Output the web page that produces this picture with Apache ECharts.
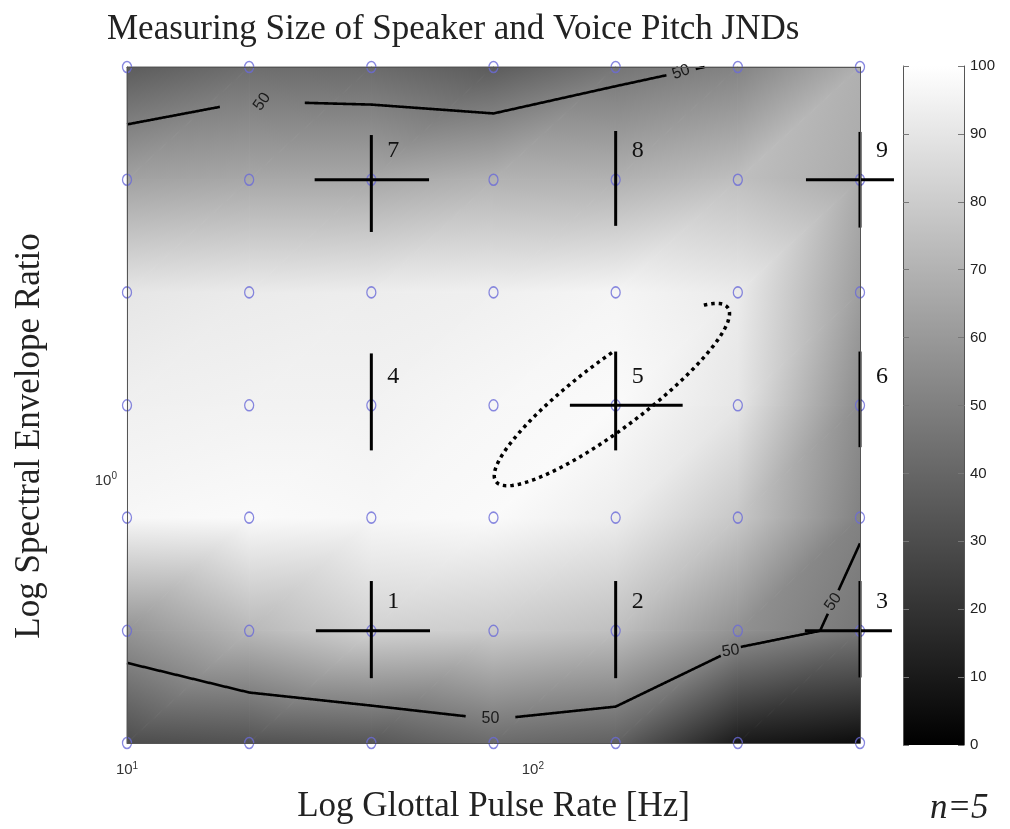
<!DOCTYPE html>
<html>
<head>
<meta charset="utf-8">
<title>Measuring Size of Speaker and Voice Pitch JNDs</title>
<script src="https://cdn.jsdelivr.net/npm/echarts@6/dist/echarts.min.js"></script>
<style>
    html, body { margin: 0; padding: 0; background: #fff; }
    #chart { width: 1010px; height: 829px; }
</style>
</head>
<body>
<div id="chart"></div>
<script>
    // grid of the experiment: glottal pulse rate (Hz) x spectral envelope ratio
    var gprValues = [10, 20, 40, 80, 160, 320, 640];
    var serValues = [0.584, 0.735, 0.927, 1.167, 1.471, 1.853, 2.335];

    // percent values at the grid points, one row per SER (lowest first)
    var pctRow0 = [30, 32, 34, 42, 38, 10, 5];
    var pctRow1 = [58, 72, 82, 80, 75, 57, 46.6];
    var pctRow2 = [97, 98, 97, 98, 93, 78, 51];
    var pctRow3 = [94, 95, 95, 97, 98, 90, 55];
    var pctRow4 = [90, 92, 93, 94, 96, 92, 62];
    var pctRow5 = [63.5, 66, 66, 70, 69.5, 75, 67];
    var pctRow6 = [36, 43, 42, 36, 46, 51.5, 69];
    var pctGrid = [pctRow0, pctRow1, pctRow2, pctRow3, pctRow4, pctRow5, pctRow6];

    // colour bar scale
    var colorMin = 0;
    var colorMax = 100;
    var colorStep = 10;

    // contour level and where its labels sit
    var contourLevel = 50;
    var contourLabelGpr = [21.5, 234, 78.4, 311, 558];
    var contourLabelSer = [2.16, 2.28, 0.611, 0.699, 0.778];

    // JNDs measured at 9 of the grid points
    var jndNames = ['1', '2', '3', '4', '5', '6', '7', '8', '9'];
    var jndGpr = [40, 160, 640, 40, 160, 640, 40, 160, 640];
    var jndSer = [0.735, 0.735, 0.735, 1.167, 1.167, 1.167, 1.853, 1.853, 1.853];
    var jndGprLow = [29.2, null, 468, null, 123.4, null, 29.0, null, 471];
    var jndGprHigh = [55.8, null, 767, null, 234, null, 55.5, null, 776];
    var jndSerLow = [0.667, 0.667, 0.668, 1.064, 1.064, 1.071, 1.665, 1.686, 1.680];
    var jndSerHigh = [0.814, 0.814, 0.814, 1.298, 1.303, 1.303, 2.031, 2.048, 2.044];

    // ellipse round point 5 (centre in Hz / SER, axes in log10 units, open between the two angles)
    var ellipseCenter = [156.6, 1.193];
    var ellipseMajor = [0.2855, 0.0775];
    var ellipseMinor = [-0.0503, 0.0242];
    var ellipseGap = [30, 80];

    // ---- styles ----
    var contourGapPx = [42, 14, 24, 10, 12];
    var contourLabelRotate = [55, 20, 0, 8, 55];
    var serifFont = '"Liberation Serif", "Times New Roman", serif';
    var sansFont = '"Liberation Sans", Arial, sans-serif';

    function log10(v) {
        return Math.log(v) / Math.LN10;
    }

    function grayOf(v) {
        var c = Math.round(Math.max(0, Math.min(100, v)) / 100 * 255);
        return 'rgb(' + c + ',' + c + ',' + c + ')';
    }

    // gouraud style triangle: colour is linear over the triangle, so one linear gradient does it
    function shadeTriangle(p, v) {
        var x0 = p[0][0], y0 = p[0][1];
        var dx1 = p[1][0] - x0, dy1 = p[1][1] - y0;
        var dx2 = p[2][0] - x0, dy2 = p[2][1] - y0;
        var dv1 = v[1] - v[0], dv2 = v[2] - v[0];
        var det = dx1 * dy2 - dx2 * dy1;
        var a = (dv1 * dy2 - dv2 * dy1) / det;
        var b = (dx1 * dv2 - dx2 * dv1) / det;
        var g = Math.sqrt(a * a + b * b);
        var fill, stroke;
        if (!isFinite(g) || g < 1e-6) {
            fill = stroke = grayOf(v[0]);
        } else {
            var ux = a / g, uy = b / g;
            var t = p.map(function (pt) { return pt[0] * ux + pt[1] * uy; });
            var t0 = t[0];
            var tmin = Math.min(t[0], t[1], t[2]);
            var tmax = Math.max(t[0], t[1], t[2]);
            var makeGrad = function () {
                return new echarts.graphic.LinearGradient(
                    x0 + ux * (tmin - t0), y0 + uy * (tmin - t0),
                    x0 + ux * (tmax - t0), y0 + uy * (tmax - t0),
                    [
                        { offset: 0, color: grayOf(v[0] + g * (tmin - t0)) },
                        { offset: 1, color: grayOf(v[0] + g * (tmax - t0)) }
                    ],
                    true
                );
            };
            fill = makeGrad();
            stroke = makeGrad();
        }
        return {
            type: 'polygon',
            shape: { points: p },
            style: { fill: fill, stroke: stroke, lineWidth: 1 }
        };
    }

    function renderSurface(params, api) {
        var i = api.value(2), j = api.value(3);
        var z = pctGrid;
        var bl = api.coord([gprValues[i], serValues[j]]);
        var br = api.coord([gprValues[i + 1], serValues[j]]);
        var tr = api.coord([gprValues[i + 1], serValues[j + 1]]);
        var tl = api.coord([gprValues[i], serValues[j + 1]]);
        return {
            type: 'group',
            children: [
                shadeTriangle([bl, br, tr], [z[j][i], z[j][i + 1], z[j + 1][i + 1]]),
                shadeTriangle([bl, tr, tl], [z[j][i], z[j + 1][i + 1], z[j + 1][i]])
            ]
        };
    }

    // marching squares on the grid, interpolating in log space
    function edgePoint(i1, j1, i2, j2, level) {
        var va = pctGrid[j1][i1], vb = pctGrid[j2][i2];
        if ((va - level) * (vb - level) >= 0) return null;
        var t = (level - va) / (vb - va);
        var lx = log10(gprValues[i1]) + t * (log10(gprValues[i2]) - log10(gprValues[i1]));
        var ly = log10(serValues[j1]) + t * (log10(serValues[j2]) - log10(serValues[j1]));
        return {
            key: (i1 === i2 ? 'v' : 'h') + Math.min(i1, i2) + '_' + Math.min(j1, j2),
            value: [Math.pow(10, lx), Math.pow(10, ly)]
        };
    }

    function contourLines(level) {
        var segs = [];
        for (var j = 0; j < serValues.length - 1; j++) {
            for (var i = 0; i < gprValues.length - 1; i++) {
                var pts = [
                    edgePoint(i, j, i + 1, j, level),
                    edgePoint(i + 1, j, i + 1, j + 1, level),
                    edgePoint(i, j + 1, i + 1, j + 1, level),
                    edgePoint(i, j, i, j + 1, level)
                ].filter(function (p) { return p; });
                if (pts.length === 2) {
                    segs.push([pts[0], pts[1]]);
                } else if (pts.length === 4) {
                    var mid = (pctGrid[j][i] + pctGrid[j][i + 1] + pctGrid[j + 1][i] + pctGrid[j + 1][i + 1]) / 4;
                    if ((mid - level) * (pctGrid[j][i] - level) > 0) {
                        segs.push([pts[0], pts[1]], [pts[2], pts[3]]);
                    } else {
                        segs.push([pts[0], pts[3]], [pts[1], pts[2]]);
                    }
                }
            }
        }
        var used = segs.map(function () { return false; });
        var lines = [];
        for (var s = 0; s < segs.length; s++) {
            if (used[s]) continue;
            used[s] = true;
            var line = [segs[s][0], segs[s][1]];
            var grow = true;
            while (grow) {
                grow = false;
                for (var k = 0; k < segs.length; k++) {
                    if (used[k]) continue;
                    var a = segs[k][0], b = segs[k][1];
                    var head = line[0].key, tail = line[line.length - 1].key;
                    if (a.key === tail) { line.push(b); }
                    else if (b.key === tail) { line.push(a); }
                    else if (a.key === head) { line.unshift(b); }
                    else if (b.key === head) { line.unshift(a); }
                    else continue;
                    used[k] = true;
                    grow = true;
                }
            }
            lines.push(line.map(function (p) { return p.value; }));
        }
        return lines;
    }

    function densify(pts, step) {
        var out = [pts[0]];
        for (var k = 1; k < pts.length; k++) {
            var a = pts[k - 1], b = pts[k];
            var n = Math.max(1, Math.ceil(Math.hypot(b[0] - a[0], b[1] - a[1]) / step));
            for (var s = 1; s <= n; s++) {
                out.push([a[0] + (b[0] - a[0]) * s / n, a[1] + (b[1] - a[1]) * s / n]);
            }
        }
        return out;
    }

    var contourData = contourLines(contourLevel);

    function renderContour(params, api) {
        var lines = contourData.map(function (line) {
            return densify(line.map(function (v) { return api.coord(v); }), 1);
        });
        // snap the labels onto the line
        var labels = contourLabelGpr.map(function (g, k) {
            var p = api.coord([g, contourLabelSer[k]]);
            var best = p, bestD = Infinity;
            lines.forEach(function (line) {
                line.forEach(function (q) {
                    var d = Math.hypot(q[0] - p[0], q[1] - p[1]);
                    if (d < bestD) { bestD = d; best = q; }
                });
            });
            return best;
        });
        var children = [];
        lines.forEach(function (line) {
            var run = [];
            line.forEach(function (q) {
                var hidden = labels.some(function (c, k) {
                    return Math.hypot(q[0] - c[0], q[1] - c[1]) < contourGapPx[k];
                });
                if (hidden) {
                    if (run.length > 1) children.push(run);
                    run = [];
                } else {
                    run.push(q);
                }
            });
            if (run.length > 1) children.push(run);
        });
        children = children.map(function (run) {
            return {
                type: 'polyline',
                shape: { points: run },
                style: { stroke: '#000', lineWidth: 2.6, fill: null, lineJoin: 'round' }
            };
        });
        labels.forEach(function (c, k) {
            children.push({
                type: 'text',
                x: c[0],
                y: c[1],
                rotation: contourLabelRotate[k] * Math.PI / 180,
                style: {
                    text: String(contourLevel),
                    fill: '#1a1a1a',
                    font: '16px ' + sansFont,
                    align: 'center',
                    verticalAlign: 'middle'
                }
            });
        });
        return { type: 'group', children: children };
    }

    function renderJnd(params, api) {
        var k = api.value(2);
        var c = api.coord([jndGpr[k], jndSer[k]]);
        var lineStyle = { stroke: '#000', lineWidth: 3 };
        var top = api.coord([jndGpr[k], jndSerHigh[k]]);
        var bottom = api.coord([jndGpr[k], jndSerLow[k]]);
        var children = [{
            type: 'line',
            shape: { x1: top[0], y1: top[1], x2: bottom[0], y2: bottom[1] },
            style: lineStyle
        }];
        if (jndGprLow[k] != null) {
            var left = api.coord([jndGprLow[k], jndSer[k]]);
            var right = api.coord([jndGprHigh[k], jndSer[k]]);
            children.push({
                type: 'line',
                shape: { x1: left[0], y1: left[1], x2: right[0], y2: right[1] },
                style: lineStyle
            });
        }
        children.push({
            type: 'text',
            x: c[0] + 22,
            y: c[1] - 29,
            style: {
                text: jndNames[k],
                fill: '#111',
                font: '24px ' + serifFont,
                align: 'center',
                verticalAlign: 'middle'
            }
        });
        return { type: 'group', children: children };
    }

    function renderEllipse(params, api) {
        var lc = [log10(ellipseCenter[0]), log10(ellipseCenter[1])];
        var pts = [];
        for (var deg = ellipseGap[1]; deg <= ellipseGap[0] + 360; deg += 2) {
            var th = deg * Math.PI / 180;
            var lx = lc[0] + Math.cos(th) * ellipseMajor[0] + Math.sin(th) * ellipseMinor[0];
            var ly = lc[1] + Math.cos(th) * ellipseMajor[1] + Math.sin(th) * ellipseMinor[1];
            pts.push(api.coord([Math.pow(10, lx), Math.pow(10, ly)]));
        }
        return {
            type: 'polyline',
            shape: { points: pts },
            style: { stroke: '#000', lineWidth: 3.5, fill: null, lineDash: [3.5, 4], lineCap: 'butt' }
        };
    }

    var surfaceCells = [];
    for (var j = 0; j < serValues.length - 1; j++) {
        for (var i = 0; i < gprValues.length - 1; i++) {
            surfaceCells.push([gprValues[i], serValues[j], i, j]);
        }
    }
    var gridPoints = [];
    serValues.forEach(function (s) {
        gprValues.forEach(function (g) { gridPoints.push([g, s]); });
    });
    var jndData = jndNames.map(function (n, k) { return [jndGpr[k], jndSer[k], k]; });

    function powerLabel(v) {
        var e = log10(v);
        if (Math.abs(e - Math.round(e)) > 1e-6) return '';
        return '{b|10}{e|' + Math.round(e) + '}';
    }
    var powerRich = {
        b: { fontSize: 15, fontFamily: sansFont, color: '#333', lineHeight: 18 },
        e: { fontSize: 10, fontFamily: sansFont, color: '#333', lineHeight: 18, verticalAlign: 'top', padding: [0, 0, 6, 0] }
    };
    var boxLine = { show: true, lineStyle: { color: '#555', width: 1 } };

    var chart = echarts.init(document.getElementById('chart'));
    var option = {
        animation: false,
        backgroundColor: '#fff',
        title: {
            text: 'Measuring Size of Speaker and Voice Pitch JNDs',
            left: 102,
            top: 7,
            textStyle: { fontFamily: serifFont, fontSize: 35, fontWeight: 'normal', color: '#222' }
        },
        graphic: [
            {
                type: 'text',
                x: 30,
                y: 436,
                rotation: Math.PI / 2,
                style: {
                    text: 'Log Spectral Envelope Ratio',
                    font: '35px ' + serifFont,
                    fill: '#222',
                    align: 'center',
                    verticalAlign: 'middle'
                }
            },
            {
                type: 'text',
                left: 930,
                top: 791,
                style: { text: 'n=5', font: 'italic 35px ' + serifFont, fill: '#222' }
            }
        ],
        grid: [
            { left: 127, top: 67, width: 733, height: 677 },
            { left: 903, top: 66, width: 61, height: 679 }
        ],
        xAxis: [
            {
                gridIndex: 0,
                type: 'log',
                logBase: 10,
                min: 10,
                max: 640,
                z: 10,
                name: 'Log Glottal Pulse Rate [Hz]',
                nameLocation: 'middle',
                nameGap: 46,
                nameTextStyle: { fontFamily: serifFont, fontSize: 35, color: '#222' },
                axisLine: boxLine,
                axisTick: { show: false },
                splitLine: { show: false },
                minorTick: { show: false },
                axisLabel: { formatter: powerLabel, rich: powerRich, margin: 18, showMinLabel: true, showMaxLabel: true }
            },
            {
                gridIndex: 0,
                type: 'log',
                logBase: 10,
                min: 10,
                max: 640,
                position: 'top',
                z: 10,
                axisLine: boxLine,
                axisTick: { show: false },
                splitLine: { show: false },
                axisLabel: { show: false }
            },
            {
                gridIndex: 1,
                type: 'category',
                data: [''],
                show: false
            }
        ],
        yAxis: [
            {
                gridIndex: 0,
                type: 'log',
                logBase: 10,
                min: serValues[0],
                max: serValues[serValues.length - 1],
                z: 10,
                axisLine: boxLine,
                axisTick: { show: false },
                splitLine: { show: false },
                axisLabel: { formatter: powerLabel, rich: powerRich, margin: 10 }
            },
            {
                gridIndex: 0,
                type: 'log',
                logBase: 10,
                min: serValues[0],
                max: serValues[serValues.length - 1],
                position: 'right',
                z: 10,
                axisLine: boxLine,
                axisTick: { show: false },
                splitLine: { show: false },
                axisLabel: { show: false }
            },
            {
                gridIndex: 1,
                type: 'value',
                min: colorMin,
                max: colorMax,
                interval: colorStep,
                position: 'right',
                z: 10,
                axisLine: boxLine,
                axisTick: { show: true, inside: true, length: 6, lineStyle: { color: '#777' } },
                splitLine: { show: false },
                axisLabel: { fontFamily: sansFont, fontSize: 15, color: '#222', margin: 6 }
            },
            {
                gridIndex: 1,
                type: 'value',
                min: colorMin,
                max: colorMax,
                interval: colorStep,
                position: 'left',
                z: 10,
                axisLine: boxLine,
                axisTick: { show: true, inside: true, length: 6, lineStyle: { color: '#777' } },
                splitLine: { show: false },
                axisLabel: { show: false }
            }
        ],
        series: [
            {
                type: 'custom',
                name: 'surface',
                xAxisIndex: 0,
                yAxisIndex: 0,
                silent: true,
                z: 1,
                encode: { x: 0, y: 1 },
                renderItem: renderSurface,
                data: surfaceCells
            },
            {
                type: 'custom',
                name: 'contour',
                xAxisIndex: 0,
                yAxisIndex: 0,
                silent: true,
                z: 2,
                encode: { x: 0, y: 1 },
                renderItem: renderContour,
                data: [[gprValues[0], serValues[0]]]
            },
            {
                type: 'scatter',
                name: 'stimuli',
                xAxisIndex: 0,
                yAxisIndex: 0,
                silent: true,
                clip: false,
                z: 3,
                symbol: 'circle',
                symbolSize: [9, 11],
                itemStyle: { color: 'rgba(0,0,0,0)', borderColor: '#6a6ad8', borderWidth: 1.4 },
                data: gridPoints
            },
            {
                type: 'custom',
                name: 'jnd',
                xAxisIndex: 0,
                yAxisIndex: 0,
                silent: true,
                z: 4,
                encode: { x: 0, y: 1 },
                renderItem: renderJnd,
                data: jndData
            },
            {
                type: 'custom',
                name: 'ellipse',
                xAxisIndex: 0,
                yAxisIndex: 0,
                silent: true,
                z: 5,
                encode: { x: 0, y: 1 },
                renderItem: renderEllipse,
                data: [ellipseCenter]
            },
            {
                type: 'bar',
                name: 'colorbar',
                xAxisIndex: 2,
                yAxisIndex: 2,
                silent: true,
                barWidth: '100%',
                itemStyle: {
                    color: new echarts.graphic.LinearGradient(0, 1, 0, 0, [
                        { offset: 0, color: grayOf(colorMin) },
                        { offset: 1, color: grayOf(colorMax) }
                    ])
                },
                data: [colorMax]
            }
        ]
    };
    chart.setOption(option);
</script>
</body>
</html>
